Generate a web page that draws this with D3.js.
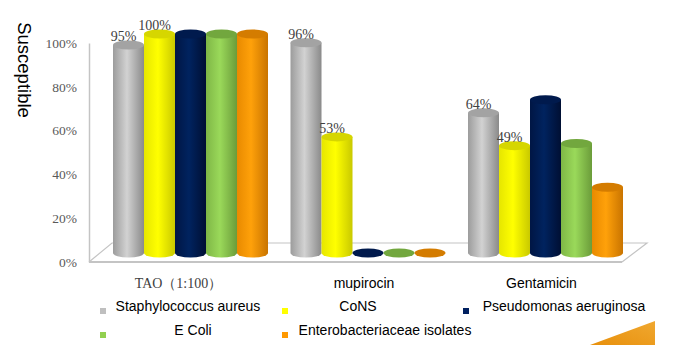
<!DOCTYPE html>
<html>
<head>
<meta charset="utf-8">
<script src="https://cdn.jsdelivr.net/npm/d3@7"></script>
<style>
  body { margin: 0; background: #fff; }
  svg { display: block; }
</style>
</head>
<body>
<div id="chart"></div>
<script>
// Chart data
const categories = ["TAO（1:100）", "mupirocin", "Gentamicin"];
const seriesNames = ["Staphylococcus aureus", "CoNS", "Pseudomonas aeruginosa", "E Coli", "Enterobacteriaceae isolates"];
const staphValues = [95, 96, 64];
const consValues = [100, 53, 49];
const pseudoValues = [100, 0, 70];
const ecoliValues = [100, 0, 50];
const enteroValues = [100, 0, 30];
const yTicks = [0, 20, 40, 60, 80, 100];

const seriesValues = [staphValues, consValues, pseudoValues, ecoliValues, enteroValues];
// only the first two series carry data labels in the original
const labelled = [true, true, false, false, false];

// Chart sizes
const width = 675, height = 353;
const depthY = 9;

// Colours: [left edge, middle, right edge, top]
const colors = [
    ["#9c9c9c", "#d2d2d2", "#8a8a8a", "#a3a3a3", "#bfbfbf"],
    ["#e6e600", "#ffff00", "#c9c900", "#d6d600", "#ffff00"],
    ["#001644", "#00235f", "#000f33", "#001a4d", "#002060"],
    ["#7fb746", "#9ad95a", "#6b9c3a", "#72a73e", "#92d050"],
    ["#e88a00", "#ffa10a", "#c97400", "#d47c00", "#ff9900"]
];

const svg = d3.select("#chart")
    .append("svg")
    .attr("width", width)
    .attr("height", height);

const defs = svg.append("defs");
colors.forEach((c, i) => {
    const g = defs.append("linearGradient")
        .attr("id", "cyl" + i)
        .attr("x1", "0%").attr("x2", "100%").attr("y1", "0%").attr("y2", "0%");
    g.append("stop").attr("offset", "0%").attr("stop-color", c[0]);
    g.append("stop").attr("offset", "45%").attr("stop-color", c[1]);
    g.append("stop").attr("offset", "100%").attr("stop-color", c[2]);
});
const tri = defs.append("linearGradient")
    .attr("id", "tri")
    .attr("x1", "0%").attr("x2", "100%").attr("y1", "100%").attr("y2", "0%");
tri.append("stop").attr("offset", "0%").attr("stop-color", "#e8900c");
tri.append("stop").attr("offset", "100%").attr("stop-color", "#f0a830");

// Scales
const y = d3.scaleLinear()
    .domain([0, 100])
    .range([262, 43]);

const x = d3.scalePoint()
    .domain(categories)
    .range([190.5, 545.5]);

const xs = d3.scaleBand()
    .domain(d3.range(seriesNames.length))
    .range([-77.5, 77.5]);

// Floor
const floor = svg.append("g")
    .attr("fill", "none")
    .attr("stroke", "#c4c4c4");
floor.append("path")
    .attr("d", `M89,${y(0)} L112,${y(0) - 19} L647,${y(0) - 19} L622,${y(0)}`)
    .attr("stroke-width", 1.2);
floor.append("line")
    .attr("x1", 89).attr("x2", 622)
    .attr("y1", y(0)).attr("y2", y(0))
    .attr("stroke-width", 2);

// Y axis
const yAxis = svg.append("g")
    .attr("transform", "translate(89,0)")
    .call(d3.axisLeft(y)
        .tickValues(yTicks)
        .tickSize(0)
        .tickSizeOuter(0)
        .tickPadding(12)
        .tickFormat(d => d + "%"));
yAxis.select(".domain").attr("stroke", "#c4c4c4").attr("stroke-width", 1.5);
yAxis.selectAll("text")
    .attr("font-family", "'Liberation Serif', serif")
    .attr("font-size", 13.5)
    .attr("fill", "#595959");

// Cylinders
const rx = xs.bandwidth() / 2, ry = 4.5;
categories.forEach((cat, ci) => {
    seriesNames.forEach((s, si) => {
        const v = seriesValues[si][ci];
        const cx = x(cat) + xs(si) + rx;
        const yb = y(0) - depthY;
        const yt = y(v) - depthY;
        const g = svg.append("g");
        if (v > 0) {
            g.append("path")
                .attr("d", `M${cx - rx},${yt} L${cx - rx},${yb} A${rx},${ry} 0 0 0 ${cx + rx},${yb} L${cx + rx},${yt} Z`)
                .attr("fill", `url(#cyl${si})`);
        }
        g.append("ellipse")
            .attr("cx", cx).attr("cy", yt)
            .attr("rx", rx).attr("ry", ry)
            .attr("fill", colors[si][3]);
        if (labelled[si]) {
            svg.append("text")
                .attr("x", cx - 5)
                .attr("y", yt - 4)
                .attr("text-anchor", "middle")
                .attr("font-family", "'Liberation Serif', serif")
                .attr("font-size", 14)
                .attr("fill", "#404040")
                .text(v + "%");
        }
    });
});

// Category labels
svg.append("g")
    .selectAll("text")
    .data(categories)
    .join("text")
    .attr("x", (d, i) => x(d) - (i === 0 ? 12 : 4))
    .attr("y", 288)
    .attr("text-anchor", "middle")
    .attr("font-family", (d, i) => i === 0 ? "'Liberation Serif', serif" : "'Liberation Sans', Arial, sans-serif")
    .attr("font-size", 14)
    .attr("fill", (d, i) => i === 0 ? "#404040" : "#000")
    .text(d => d);

// Y axis title
svg.append("text")
    .attr("transform", "translate(18,70) rotate(90)")
    .attr("text-anchor", "middle")
    .attr("font-family", "'Liberation Sans', Arial, sans-serif")
    .attr("font-size", 18.5)
    .attr("fill", "#000")
    .text("Susceptible");

// Legend
const legendPos = [[100, 307, 188], [282, 307, 358], [463, 307, 564], [100, 331, 193], [282, 331, 385]];
const legend = svg.append("g")
    .selectAll("g")
    .data(seriesNames)
    .join("g");
legend.append("rect")
    .attr("x", (d, i) => legendPos[i][0])
    .attr("y", (d, i) => legendPos[i][1] + 1)
    .attr("width", 6).attr("height", 6)
    .attr("fill", (d, i) => colors[i][4]);
legend.append("text")
    .attr("x", (d, i) => legendPos[i][2])
    .attr("y", (d, i) => legendPos[i][1])
    .attr("dominant-baseline", "middle")
    .attr("text-anchor", "middle")
    .attr("font-family", "'Liberation Sans', Arial, sans-serif")
    .attr("font-size", 14)
    .attr("fill", "#000")
    .text(d => d);

// Corner decoration
svg.append("path")
    .attr("d", "M590,345 L655,321 L655,345 Z")
    .attr("fill", "url(#tri)");
</script>
</body>
</html>
